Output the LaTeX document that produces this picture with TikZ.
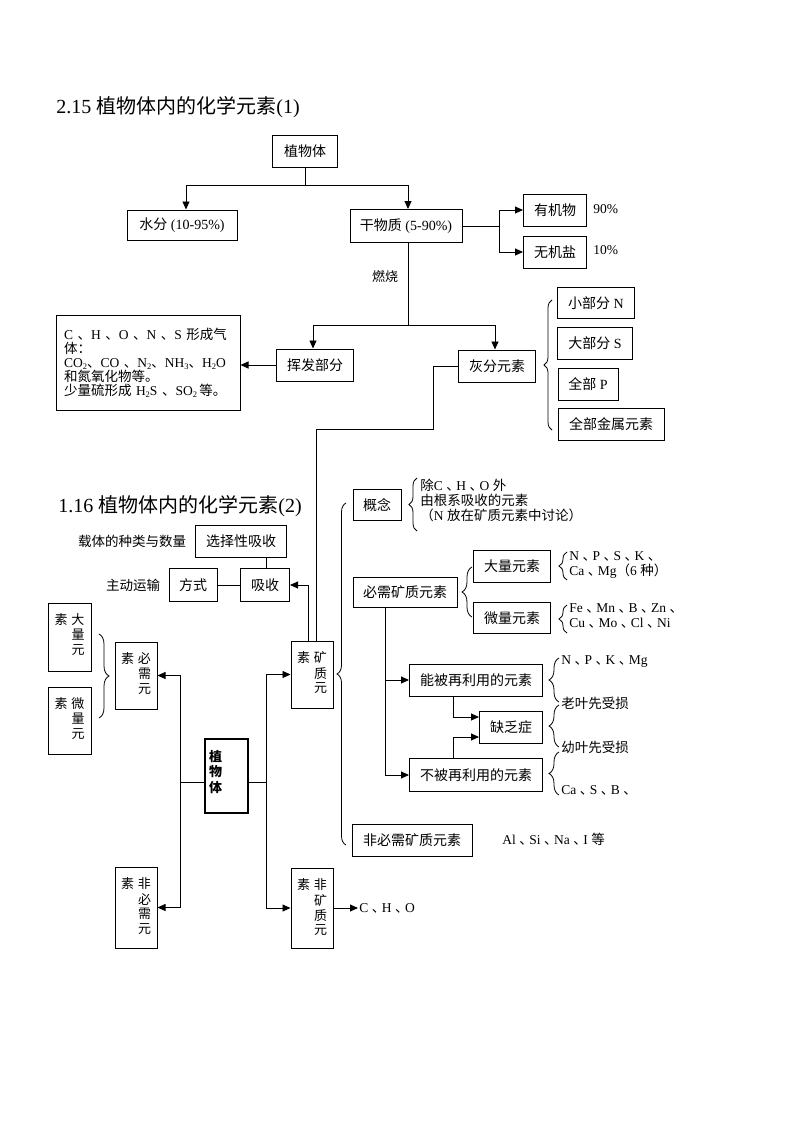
\documentclass[tikz,border=0pt]{standalone}
\usepackage{fontspec}
\setmainfont{Liberation Serif}
\newfontfamily\zhfont{Noto Sans CJK SC}
\usetikzlibrary{arrows.meta,decorations.pathreplacing,calc}
\newcommand\zh[1]{{\zhfont #1}}
\newcommand\dun{\makebox[0.75em][l]{\zhfont 、}}
\newcommand\dunw{\makebox[1em][l]{\zhfont 、}}
\newcommand\sbs[1]{\raisebox{-0.35ex}{\fontsize{8.5}{8.5}\selectfont #1}}
% vertical text box content: height, width, tabular rows
\newcommand\vt[3]{\begin{minipage}[c][#1pt][t]{#2pt}\vspace*{11pt}\centering\zhfont\fontsize{13}{14.5}\selectfont\begin{tabular}[t]{@{}c@{\hspace{4pt}}c@{}}#3\end{tabular}\end{minipage}}
\begin{document}
\begin{tikzpicture}[x=1pt,y=-1pt,
  every path/.style={line width=0.9pt},
  box/.style={draw, line width=1pt, inner sep=0pt, font=\fontsize{14}{16}\selectfont},
  vbox/.style={draw, line width=1pt, inner sep=0pt},
  lbl/.style={inner sep=1pt, font=\fontsize{13.5}{15}\selectfont},
  ttl/.style={inner sep=0pt, anchor=west, font=\fontsize{20}{24}\selectfont},
  arr/.style={-{Triangle[length=8pt,width=7pt]}},
  brc/.style={decorate, decoration={brace, amplitude=#1}, line width=0.8pt}]
\useasboundingbox (0,0) rectangle (800,1132);
\fill[white] (0,0) rectangle (800,1132);

% ---------- section 1 ----------
\node[ttl] (t1) at (56,107) {2.15 \zh{植物体内的化学元素}(1)};
\node[box, minimum width=65, minimum height=32] (top) at (305,151) {\zh{植物体}};
\node[box, minimum width=110, minimum height=30] (water) at (182,225) {\zh{水分} (10-95\%)};
\node[box, minimum width=112, minimum height=33] (dry) at (406,226) {\zh{干物质} (5-90\%)};
\node[box, minimum width=63, minimum height=32] (org) at (555,210) {\zh{有机物}};
\node[lbl, anchor=west] (p90) at (592,209) {90\%};
\node[box, minimum width=63, minimum height=32] (inorg) at (555,252) {\zh{无机盐}};
\node[lbl, anchor=west] (p10) at (592,250) {10\%};
\node[lbl, font=\fontsize{13}{15}\selectfont] (burn) at (385,277) {\zh{燃烧}};
\node[box, minimum width=77, minimum height=32] (vol) at (315,365) {\zh{挥发部分}};
\node[box, minimum width=77, minimum height=32] (ash) at (497,366) {\zh{灰分元素}};
\node[draw, line width=1pt, minimum width=184, minimum height=95, inner xsep=8pt, inner ysep=0pt,
      text width=168pt, align=left, font=\fontsize{13.5}{13.9}\selectfont] (gas) at (148,363)
 {C \dunw H \dunw O \dunw N \dunw S \zh{形成气}\\\zh{体：}\\CO\sbs2\dunw CO \dunw N\sbs2\dunw NH\sbs3\dunw H\sbs2O\\\zh{和氮氧化物等。}\\\zh{少量硫形成} H\sbs2S \dunw SO\sbs2\,\zh{等。}\\[3pt]};
\node[box, minimum width=77, minimum height=31] (nS) at (596,303) {\zh{小部分} N};
\node[box, minimum width=75, minimum height=32] (bS) at (595,343) {\zh{大部分} S};
\node[box, minimum width=60, minimum height=32] (aP) at (588,384) {\zh{全部} P};
\node[box, minimum width=106, minimum height=32] (metal) at (611,424) {\zh{全部金属元素}};

\draw (top.south) -- ++(0,18) coordinate (j1);
\draw[arr] (j1) -| ([xshift=4pt]water.north);
\draw[arr] (j1) -| ([xshift=2pt]dry.north);
\draw (dry.east) -- ++(37,0) coordinate (j2);
\draw[arr] (j2) |- (org.west);
\draw[arr] (j2) |- (inorg.west);
\draw ([xshift=2pt]dry.south) -- ++(0,82) coordinate (j3);
\draw[arr] (j3) -| ([xshift=-2pt]vol.north);
\draw[arr] (j3) -| ([xshift=-2pt]ash.north);
\draw[arr] (vol.west) -- (vol.west -| gas.east);
\draw[brc=8pt] (552,430) -- (552,300);

% ---------- section 2 ----------
\node[ttl] (t2) at (58,506) {1.16 \zh{植物体内的化学元素}(2)};
\node[lbl] (carrier) at (132,541) {\zh{载体的种类与数量}};
\node[box, minimum width=91, minimum height=32] (sel) at (241,541) {\zh{选择性吸收}};
\node[lbl] (active) at (133,585) {\zh{主动运输}};
\node[box, minimum width=48, minimum height=33] (way) at (193,585) {\zh{方式}};
\node[box, minimum width=49, minimum height=33] (absorb) at (265,585) {\zh{吸收}};

\node[vbox] (big) at (69.5,637) {\vt{68}{43}{素 & 大\\ & 量\\ & 元}};
\node[vbox] (micro) at (69.5,720.5) {\vt{67}{43}{素 & 微\\ & 量\\ & 元}};
\node[vbox] (ess) at (136,675.5) {\vt{67}{42}{素 & 必\\ & 需\\ & 元}};
\node[vbox] (noness) at (136,907.5) {\vt{81}{42}{素 & 非\\ & 必\\ & 需\\ & 元}};
\node[vbox, line width=2pt] (plant) at (226.5,776) {\begin{minipage}[c][74pt][t]{43pt}\vspace*{11pt}\hspace*{4pt}\zhfont\bfseries\fontsize{13}{14.5}\selectfont\begin{tabular}[t]{@{}c@{}}植\\物\\体\end{tabular}\end{minipage}};
\node[vbox] (mineral) at (312,674.5) {\vt{67}{42}{素 & 矿\\ & 质\\ & 元}};
\node[vbox] (nonmin) at (312,908) {\vt{80}{42}{素 & 非\\ & 矿\\ & 质\\ & 元}};
\node[lbl, anchor=west] (cho) at (358,908) {C \dun H \dun O};

\node[box, minimum width=48, minimum height=31] (concept) at (377,505) {\zh{概念}};
\node[lbl, anchor=west, align=left] (ctext) at (419,500) {\zh{除}C \dun H \dun O \zh{外}\\\zh{由根系吸收的元素}\\\zh{（}N \zh{放在矿质元素中讨论）}};
\node[box, minimum width=104, minimum height=30] (essmin) at (405,592) {\zh{必需矿质元素}};
\node[box, minimum width=77, minimum height=32] (macro) at (512,566) {\zh{大量元素}};
\node[box, minimum width=77, minimum height=31] (microE) at (512,618) {\zh{微量元素}};
\node[lbl, anchor=west, align=left] (macrot) at (568,565) {N \dun P \dun S \dun K \dun\\Ca \dun Mg\zh{（}6 \zh{种）}};
\node[lbl, anchor=west, align=left] (microt) at (568,616) {Fe \dun Mn \dun B \dun Zn \dun\\Cu \dun Mo \dun Cl \dun Ni};
\node[box, minimum width=133, minimum height=32] (reuse) at (476,680) {\zh{能被再利用的元素}};
\node[box, minimum width=133, minimum height=33] (noreuse) at (476,775) {\zh{不被再利用的元素}};
\node[box, minimum width=63, minimum height=32] (def) at (511,727) {\zh{缺乏症}};
\node[lbl, anchor=west] (r1) at (560,662) {N \dun P \dun K \dun Mg};
\node[lbl, anchor=west] (r2) at (560,703) {\zh{老叶先受损}};
\node[lbl, anchor=west] (r3) at (560,747) {\zh{幼叶先受损}};
\node[lbl, anchor=west] (r4) at (560,790) {Ca \dun S \dun B \dun};
\node[box, minimum width=120, minimum height=32] (nonessmin) at (412,840) {\zh{非必需矿质元素}};
\node[lbl, anchor=west] (al) at (501,839) {Al \dun Si \dun Na \dun I \zh{等}};

% connectors section 2
\draw (ash.west) -- ++(-25,0) -- ++(0,63) -| ([xshift=4pt]mineral.north);
\draw[arr] ([xshift=-4pt]mineral.north) |- (absorb.east);
\draw (way.east) -- (absorb.west);
\draw ([xshift=1pt]absorb.north) -- ([xshift=1pt]absorb.north |- sel.south);
\draw ([yshift=-6pt]plant.west) -- ++(-24,0) coordinate (jL);
\draw[arr] (jL) |- (ess.east);
\draw[arr] (jL) |- (noness.east);
\draw ([yshift=-6pt]plant.east) -- ++(17,0) coordinate (jR);
\draw[arr] (jR) |- (mineral.west);
\draw[arr] (jR) |- (nonmin.west);
\draw[arr] (nonmin.east) -- (cho.west);
\draw[arr] ([xshift=-20pt]essmin.south) |- (reuse.west);
\draw[arr] ([xshift=-20pt]essmin.south) |- (noreuse.west);
\draw[arr] ([xshift=-23pt]reuse.south) |- ([yshift=10pt]def.west);
\draw[arr] ([xshift=-23pt]noreuse.north) |- ([yshift=-10pt]def.west);

% braces
\draw[brc=9pt] (346,845) -- (346,503);
\draw[brc=8pt] (417,531) -- (417,478);
\draw[brc=10pt] (472,617) -- (472,567);
\draw[brc=8pt] (567,580) -- (567,552);
\draw[brc=8pt] (567,633) -- (567,605);
\draw[brc=10pt] (559,702) -- (559,658);
\draw[brc=10pt] (559,747) -- (559,705);
\draw[brc=10pt] (559,795) -- (559,752);
\draw[brc=10pt] (99,634) -- (99,718);
\end{tikzpicture}
\end{document}
